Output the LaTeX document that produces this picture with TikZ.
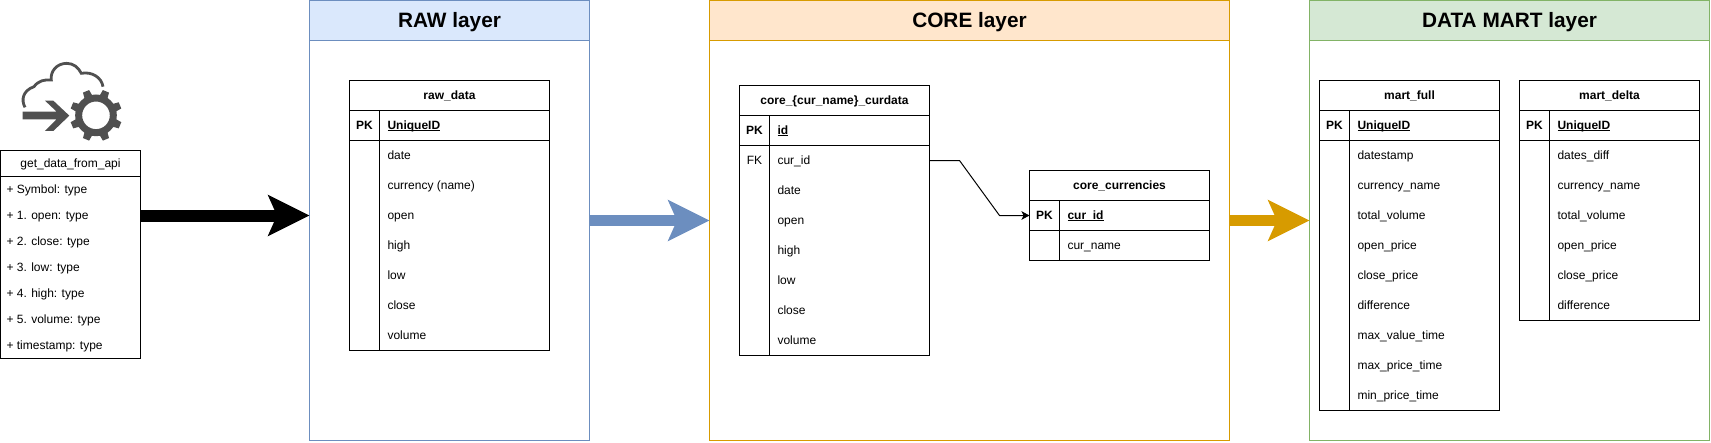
\documentclass[tikz,border=0pt]{standalone}
\usepackage{fontspec}
\setmainfont{Liberation Sans}
\usetikzlibrary{arrows.meta}
\definecolor{rawline}{HTML}{6C8EBF}
\definecolor{rawfill}{HTML}{DAE8FC}
\definecolor{coreline}{HTML}{D79B00}
\definecolor{corefill}{HTML}{FFE6CC}
\definecolor{martline}{HTML}{82B366}
\definecolor{martfill}{HTML}{D5E8D4}
\definecolor{icongrey}{HTML}{505050}
\newcommand\keyline[1]{\setbox0\hbox{#1}\rlap{\vrule width\wd0 height -0.6pt depth 1.6pt}\box0 }
\tikzset{
  layerbody/.style={draw=#1,line width=1pt,anchor=north west,inner sep=0pt,outer sep=0pt},
  layerhead/.style={layerbody=#1,font=\fontsize{20.8}{24}\selectfont\bfseries,text=black,text height=14.5pt,text depth=0pt},
  frame/.style={draw=black,line width=1pt,anchor=north west,inner sep=0pt,outer sep=0pt},
  rule/.style={draw=black,line width=1pt},
  cell/.style={inner sep=0pt,outer sep=0pt,font=\fontsize{12}{14}\selectfont,text height=11pt,text depth=2.5pt},
  fieldtext/.style={cell,anchor=west},
  keytext/.style={cell,anchor=center},
  flow/.style={line width=#1,line cap=butt},
  bigtip/.style={-{Stealth[length=41pt,width=40pt,inset=8.5pt]}},
  fktip/.style={-{Stealth[length=8pt,width=8.5pt,inset=2pt]}},
}
% #1 name, #2 x, #3 y, #4 width, #5 key column width, #6 title, #7 pk field, #8 rows, #9 height
\newcommand\ertable[9]{%
  \node[frame,minimum width=#4pt,minimum height=#9pt] (#1) at (#2,#3) {};
  \node[cell,anchor=center,font=\fontsize{12}{14}\selectfont\bfseries] (#1-title) at (#2+#4/2,#3+15) {#6};
  \draw[rule] (#2,#3+30) -- (#2+#4,#3+30);
  \draw[rule] (#2,#3+60) -- (#2+#4,#3+60);
  \draw[rule] (#2+#5,#3+30) -- (#2+#5,#3+#9);
  \node[keytext,font=\fontsize{12}{14}\selectfont\bfseries] (#1-pk) at (#2+#5/2,#3+45) {PK};
  \node[fieldtext,font=\fontsize{12}{14}\selectfont\bfseries] (#1-pkf) at (#2+#5+8,#3+45) {\keyline{#7}};
  \coordinate (#1-in) at (#2,#3+45);
  \foreach \fld [count=\i] in {#8} {
    \node[fieldtext] (#1-f\i) at (#2+#5+8,#3+45+30*\i) {\fld};
    \coordinate (#1-out\i) at (#2+#4,#3+45+30*\i);
  }%
}
\begin{document}
\begin{tikzpicture}[x=1pt,y=-1pt]
\useasboundingbox (0,0) rectangle (1711,442);
% layers
\node[layerbody=rawline,minimum width=280pt,minimum height=440pt] (raw) at (309.5,0.5) {};
\node[layerhead=rawline,fill=rawfill,minimum width=280pt,minimum height=40pt] (rawhead) at (309.5,0.5) {RAW layer};
\node[layerbody=coreline,minimum width=520pt,minimum height=440pt] (core) at (709.5,0.5) {};
\node[layerhead=coreline,fill=corefill,minimum width=520pt,minimum height=40pt] (corehead) at (709.5,0.5) {CORE layer};
\node[layerbody=martline,minimum width=400pt,minimum height=440pt] (mart) at (1309.5,0.5) {};
\node[layerhead=martline,fill=martfill,minimum width=400pt,minimum height=40pt] (marthead) at (1309.5,0.5) {DATA MART layer};
% tables
\ertable{rawdata}{349.5}{80.5}{200}{30}{raw\_data}{UniqueID}{date,currency (name),open,high,low,close,volume}{270}
\ertable{curdata}{739.5}{85.5}{190}{30}{core\_\{cur\_name\}\_curdata}{id}{cur\_id,date,open,high,low,close,volume}{270}
\node[keytext] (curdata-fk) at (754.5,160.5) {FK};
\ertable{currencies}{1029.5}{170.5}{180}{30}{core\_currencies}{cur\_id}{cur\_name}{90}
\ertable{martfull}{1319.5}{80.5}{180}{30}{mart\_full}{UniqueID}{datestamp,currency\_name,total\_volume,open\_price,close\_price,difference,max\_value\_time,max\_price\_time,min\_price\_time}{330}
\ertable{martdelta}{1519.5}{80.5}{180}{30}{mart\_delta}{UniqueID}{dates\_diff,currency\_name,total\_volume,open\_price,close\_price,difference}{240}
% api class box
\node[frame,minimum width=140pt,minimum height=208pt] (api) at (0.5,150.5) {};
\node[cell,anchor=center] (api-title) at (70.5,163.5) {get\_data\_from\_api};
\draw[rule] (0.5,176.5) -- (140.5,176.5);
\foreach \fld [count=\i] in {+ Symbol: type,+ 1. open: type,+ 2. close: type,+ 3. low: type,+ 4. high: type,+ 5. volume: type,+ timestamp: type} {
  \node[fieldtext] (api-f\i) at (6.5,176.5+26*\i-13) {\fld};
}
% connectors
\coordinate (bandA) at (0,215.5);
\coordinate (bandB) at (0,220.5);
\draw[flow=12pt,black,bigtip] (api.east |- bandA) -- (raw.west |- bandA);
\draw[flow=11pt,rawline,bigtip] (raw.east |- bandB) -- (core.west |- bandB);
\draw[flow=11pt,coreline,bigtip] (core.east |- bandB) -- (mart.west |- bandB);
\coordinate (bendA) at (959.5,160.5);
\coordinate (bendB) at (999.5,215.5);
\draw[line width=1pt,black,fktip] (curdata-out1) -- (bendA) -- (bendB) -- (currencies-in);
% icon
\begin{scope}[shift={(10,50)},x=0.3333pt,y=-0.3333pt]
  \draw[icongrey,line width=2.8pt] (45,172) .. controls (33,150) and (38,122) .. (72,110) .. controls (85,92) and (105,88) .. (124,90)
     .. controls (120,65) and (140,40) .. (170,40) .. controls (190,40) and (205,52) .. (214,70)
     .. controls (245,64) and (275,82) .. (279,110);
  \fill[icongrey] (38,185) -- (140,185) -- (105,152) -- (130,152) -- (178,197) -- (130,243) -- (105,243) -- (140,208) -- (38,208) -- cycle;
  \draw[icongrey,line width=7pt] (258,196) circle[radius=52];
  \foreach \a in {22.5,67.5,...,337.5} {
    \fill[icongrey,rotate around={\a:(258,196)}] (258+55,196-13) -- (258+78,196-10) -- (258+78,196+10) -- (258+55,196+13) -- cycle;
  }
\end{scope}
\end{tikzpicture}
\end{document}
